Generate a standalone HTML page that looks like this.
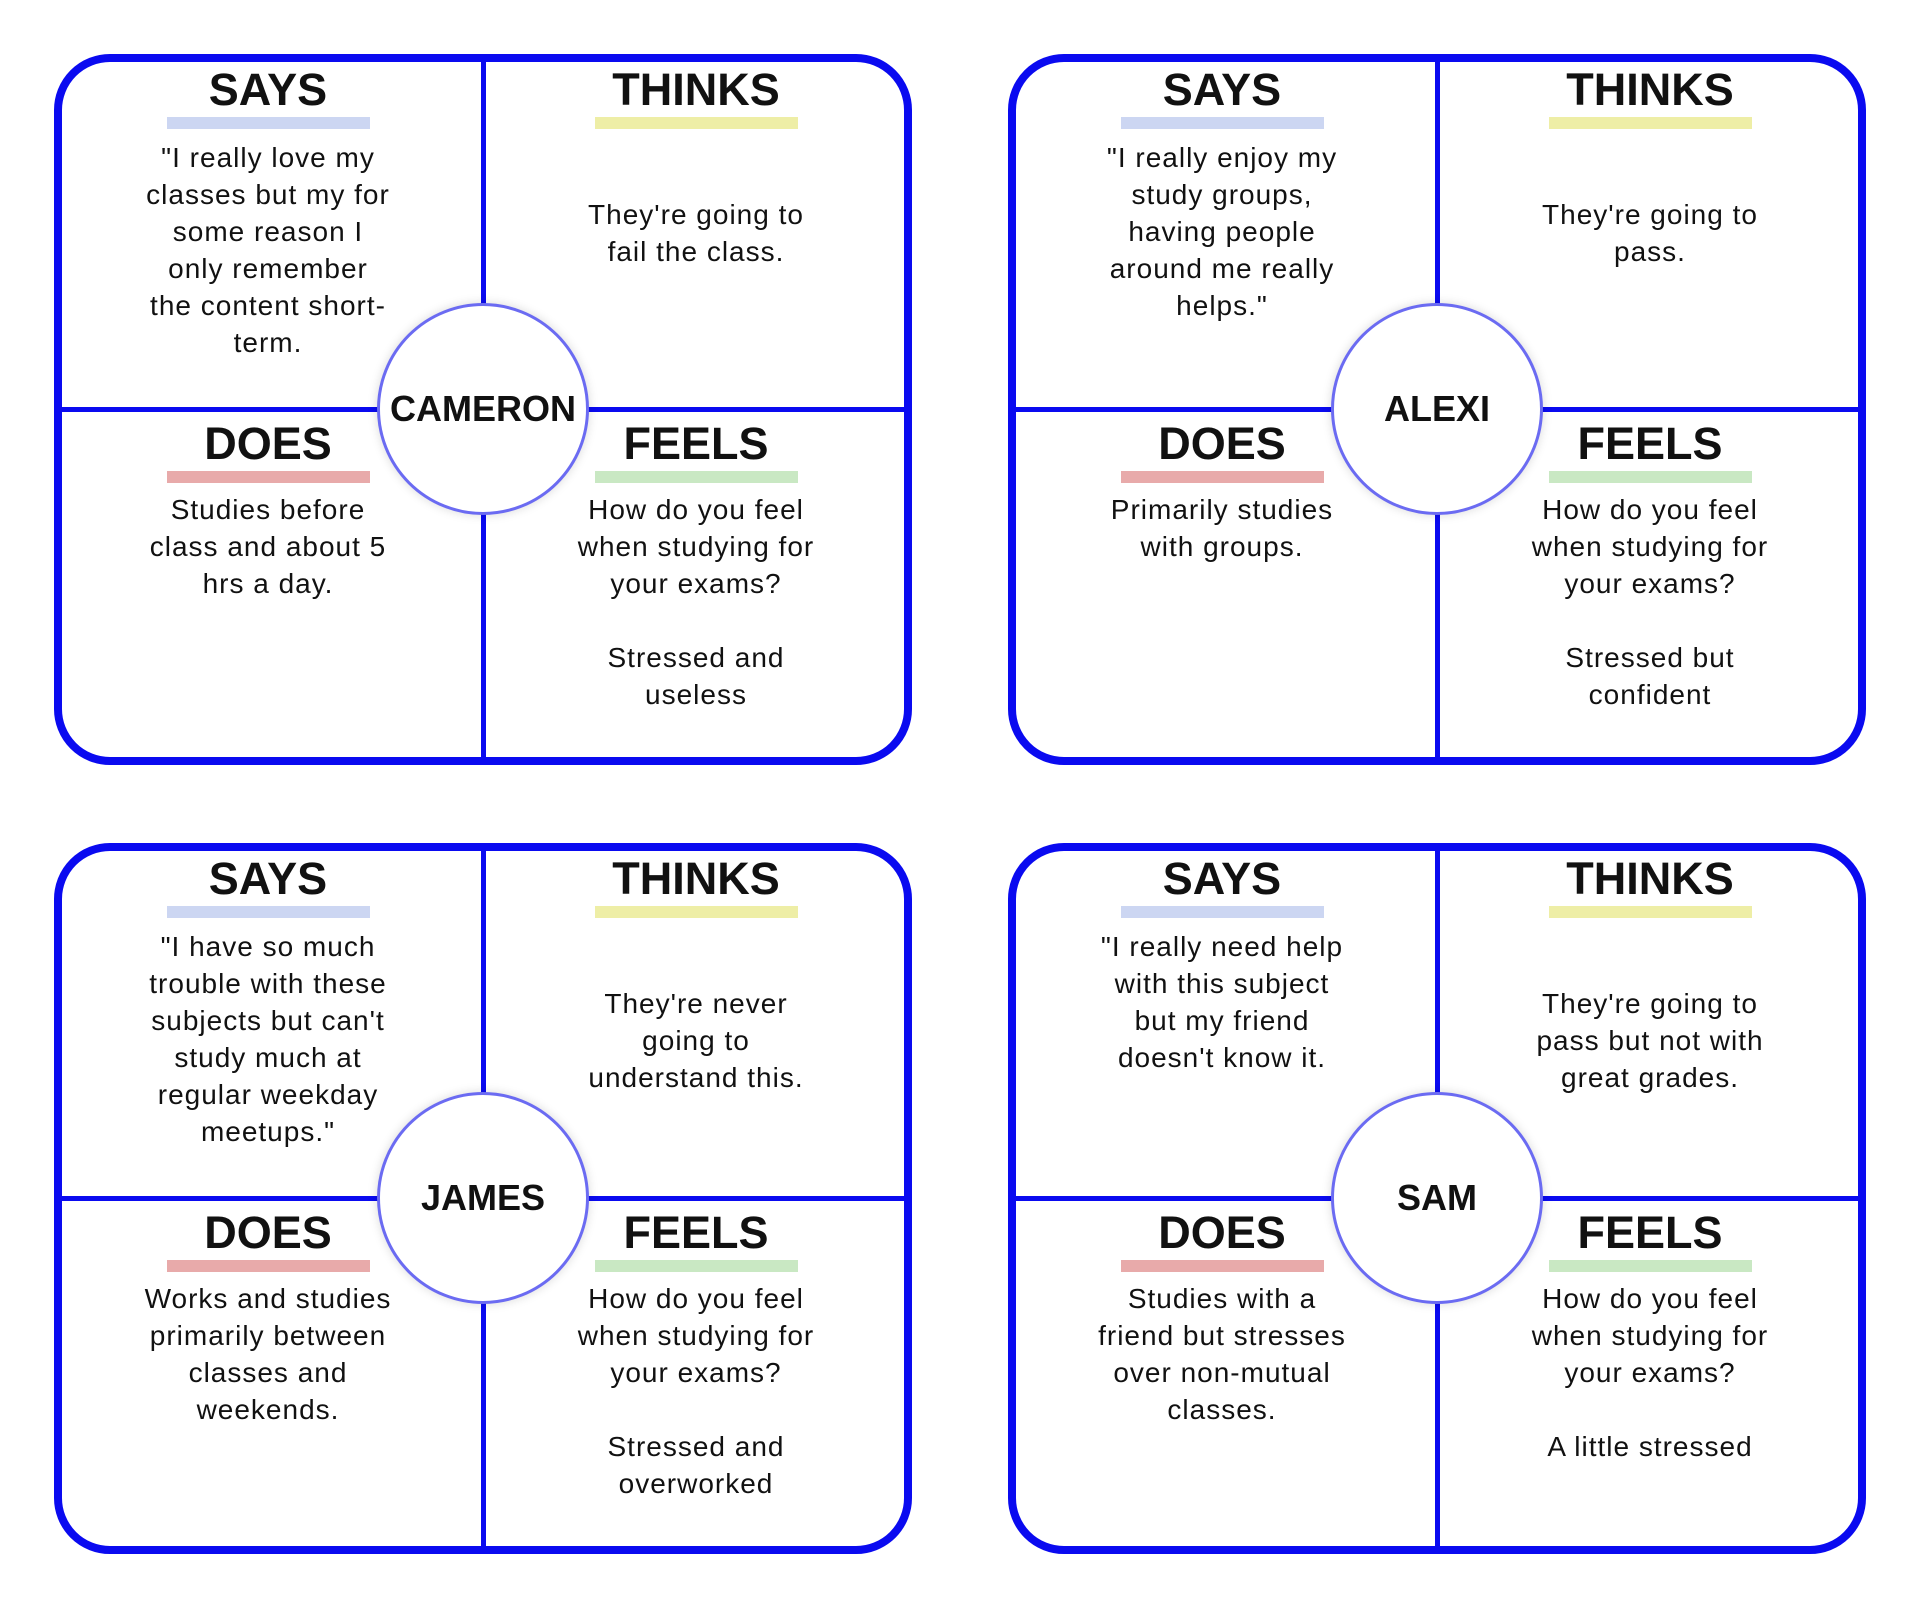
<!DOCTYPE html>
<html><head><meta charset="utf-8"><style>
html,body{margin:0;padding:0;background:#fff;}
body{width:1920px;height:1610px;position:relative;overflow:hidden;font-family:"Liberation Sans",sans-serif;color:#111;}
.card{position:absolute;width:858px;height:711px;}
.frame{position:absolute;left:0;top:0;width:858px;height:711px;box-sizing:border-box;border:8px solid #0a0af0;border-radius:56px;}
.vl{position:absolute;left:427px;top:0;width:5px;height:711px;background:#0a0af0;}
.hl{position:absolute;left:0;top:353px;width:858px;height:5px;background:#0a0af0;}
.h{position:absolute;width:400px;text-align:center;font-size:45px;line-height:44px;font-weight:bold;letter-spacing:0px;}
.bar{position:absolute;width:203px;height:12px;}
.t{position:absolute;width:420px;margin-left:-10px;text-align:center;font-size:28px;line-height:37px;letter-spacing:1px;}
.c1{left:14px}.c2{left:442px}
.b1{left:113px}.b2{left:541px}
.circ{position:absolute;left:323px;top:249px;width:212px;height:212px;box-sizing:border-box;border:3px solid #6b6bf2;border-radius:50%;background:#fff;box-shadow:0 0 10px rgba(0,0,0,0.15);display:flex;align-items:center;justify-content:center;font-weight:bold;font-size:36px;}
</style></head><body>

<div class="card" style="left:54px;top:54px">
<div class="frame"></div><div class="vl"></div><div class="hl"></div>
<div class="h c1" style="top:14px">SAYS</div><div class="bar b1" style="top:63px;background:#ccd6f2"></div>
<div class="h c2" style="top:14px">THINKS</div><div class="bar b2" style="top:63px;background:#eeeea6"></div>
<div class="h c1" style="top:368px">DOES</div><div class="bar b1" style="top:417px;background:#e8aaaa"></div>
<div class="h c2" style="top:368px">FEELS</div><div class="bar b2" style="top:417px;background:#c9e8c3"></div>
<div class="t c1" style="top:85px">"I really love my<br>classes but my for<br>some reason I<br>only remember<br>the content short-<br>term.</div>
<div class="t c2" style="top:142px">They're going to<br>fail the class.</div>
<div class="t c1" style="top:437px">Studies before<br>class and about 5<br>hrs a day.</div>
<div class="t c2" style="top:437px">How do you feel<br>when studying for<br>your exams?<br><br>Stressed and<br>useless</div>
<div class="circ">CAMERON</div>
</div>

<div class="card" style="left:1008px;top:54px">
<div class="frame"></div><div class="vl"></div><div class="hl"></div>
<div class="h c1" style="top:14px">SAYS</div><div class="bar b1" style="top:63px;background:#ccd6f2"></div>
<div class="h c2" style="top:14px">THINKS</div><div class="bar b2" style="top:63px;background:#eeeea6"></div>
<div class="h c1" style="top:368px">DOES</div><div class="bar b1" style="top:417px;background:#e8aaaa"></div>
<div class="h c2" style="top:368px">FEELS</div><div class="bar b2" style="top:417px;background:#c9e8c3"></div>
<div class="t c1" style="top:85px">"I really enjoy my<br>study groups,<br>having people<br>around me really<br>helps."</div>
<div class="t c2" style="top:142px">They're going to<br>pass.</div>
<div class="t c1" style="top:437px">Primarily studies<br>with groups.</div>
<div class="t c2" style="top:437px">How do you feel<br>when studying for<br>your exams?<br><br>Stressed but<br>confident</div>
<div class="circ">ALEXI</div>
</div>

<div class="card" style="left:54px;top:843px">
<div class="frame"></div><div class="vl"></div><div class="hl"></div>
<div class="h c1" style="top:14px">SAYS</div><div class="bar b1" style="top:63px;background:#ccd6f2"></div>
<div class="h c2" style="top:14px">THINKS</div><div class="bar b2" style="top:63px;background:#eeeea6"></div>
<div class="h c1" style="top:368px">DOES</div><div class="bar b1" style="top:417px;background:#e8aaaa"></div>
<div class="h c2" style="top:368px">FEELS</div><div class="bar b2" style="top:417px;background:#c9e8c3"></div>
<div class="t c1" style="top:85px">"I have so much<br>trouble with these<br>subjects but can't<br>study much at<br>regular weekday<br>meetups."</div>
<div class="t c2" style="top:142px">They're never<br>going to<br>understand this.</div>
<div class="t c1" style="top:437px">Works and studies<br>primarily between<br>classes and<br>weekends.</div>
<div class="t c2" style="top:437px">How do you feel<br>when studying for<br>your exams?<br><br>Stressed and<br>overworked</div>
<div class="circ">JAMES</div>
</div>

<div class="card" style="left:1008px;top:843px">
<div class="frame"></div><div class="vl"></div><div class="hl"></div>
<div class="h c1" style="top:14px">SAYS</div><div class="bar b1" style="top:63px;background:#ccd6f2"></div>
<div class="h c2" style="top:14px">THINKS</div><div class="bar b2" style="top:63px;background:#eeeea6"></div>
<div class="h c1" style="top:368px">DOES</div><div class="bar b1" style="top:417px;background:#e8aaaa"></div>
<div class="h c2" style="top:368px">FEELS</div><div class="bar b2" style="top:417px;background:#c9e8c3"></div>
<div class="t c1" style="top:85px">"I really need help<br>with this subject<br>but my friend<br>doesn't know it.</div>
<div class="t c2" style="top:142px">They're going to<br>pass but not with<br>great grades.</div>
<div class="t c1" style="top:437px">Studies with a<br>friend but stresses<br>over non-mutual<br>classes.</div>
<div class="t c2" style="top:437px">How do you feel<br>when studying for<br>your exams?<br><br>A little stressed</div>
<div class="circ">SAM</div>
</div>

</body></html>
